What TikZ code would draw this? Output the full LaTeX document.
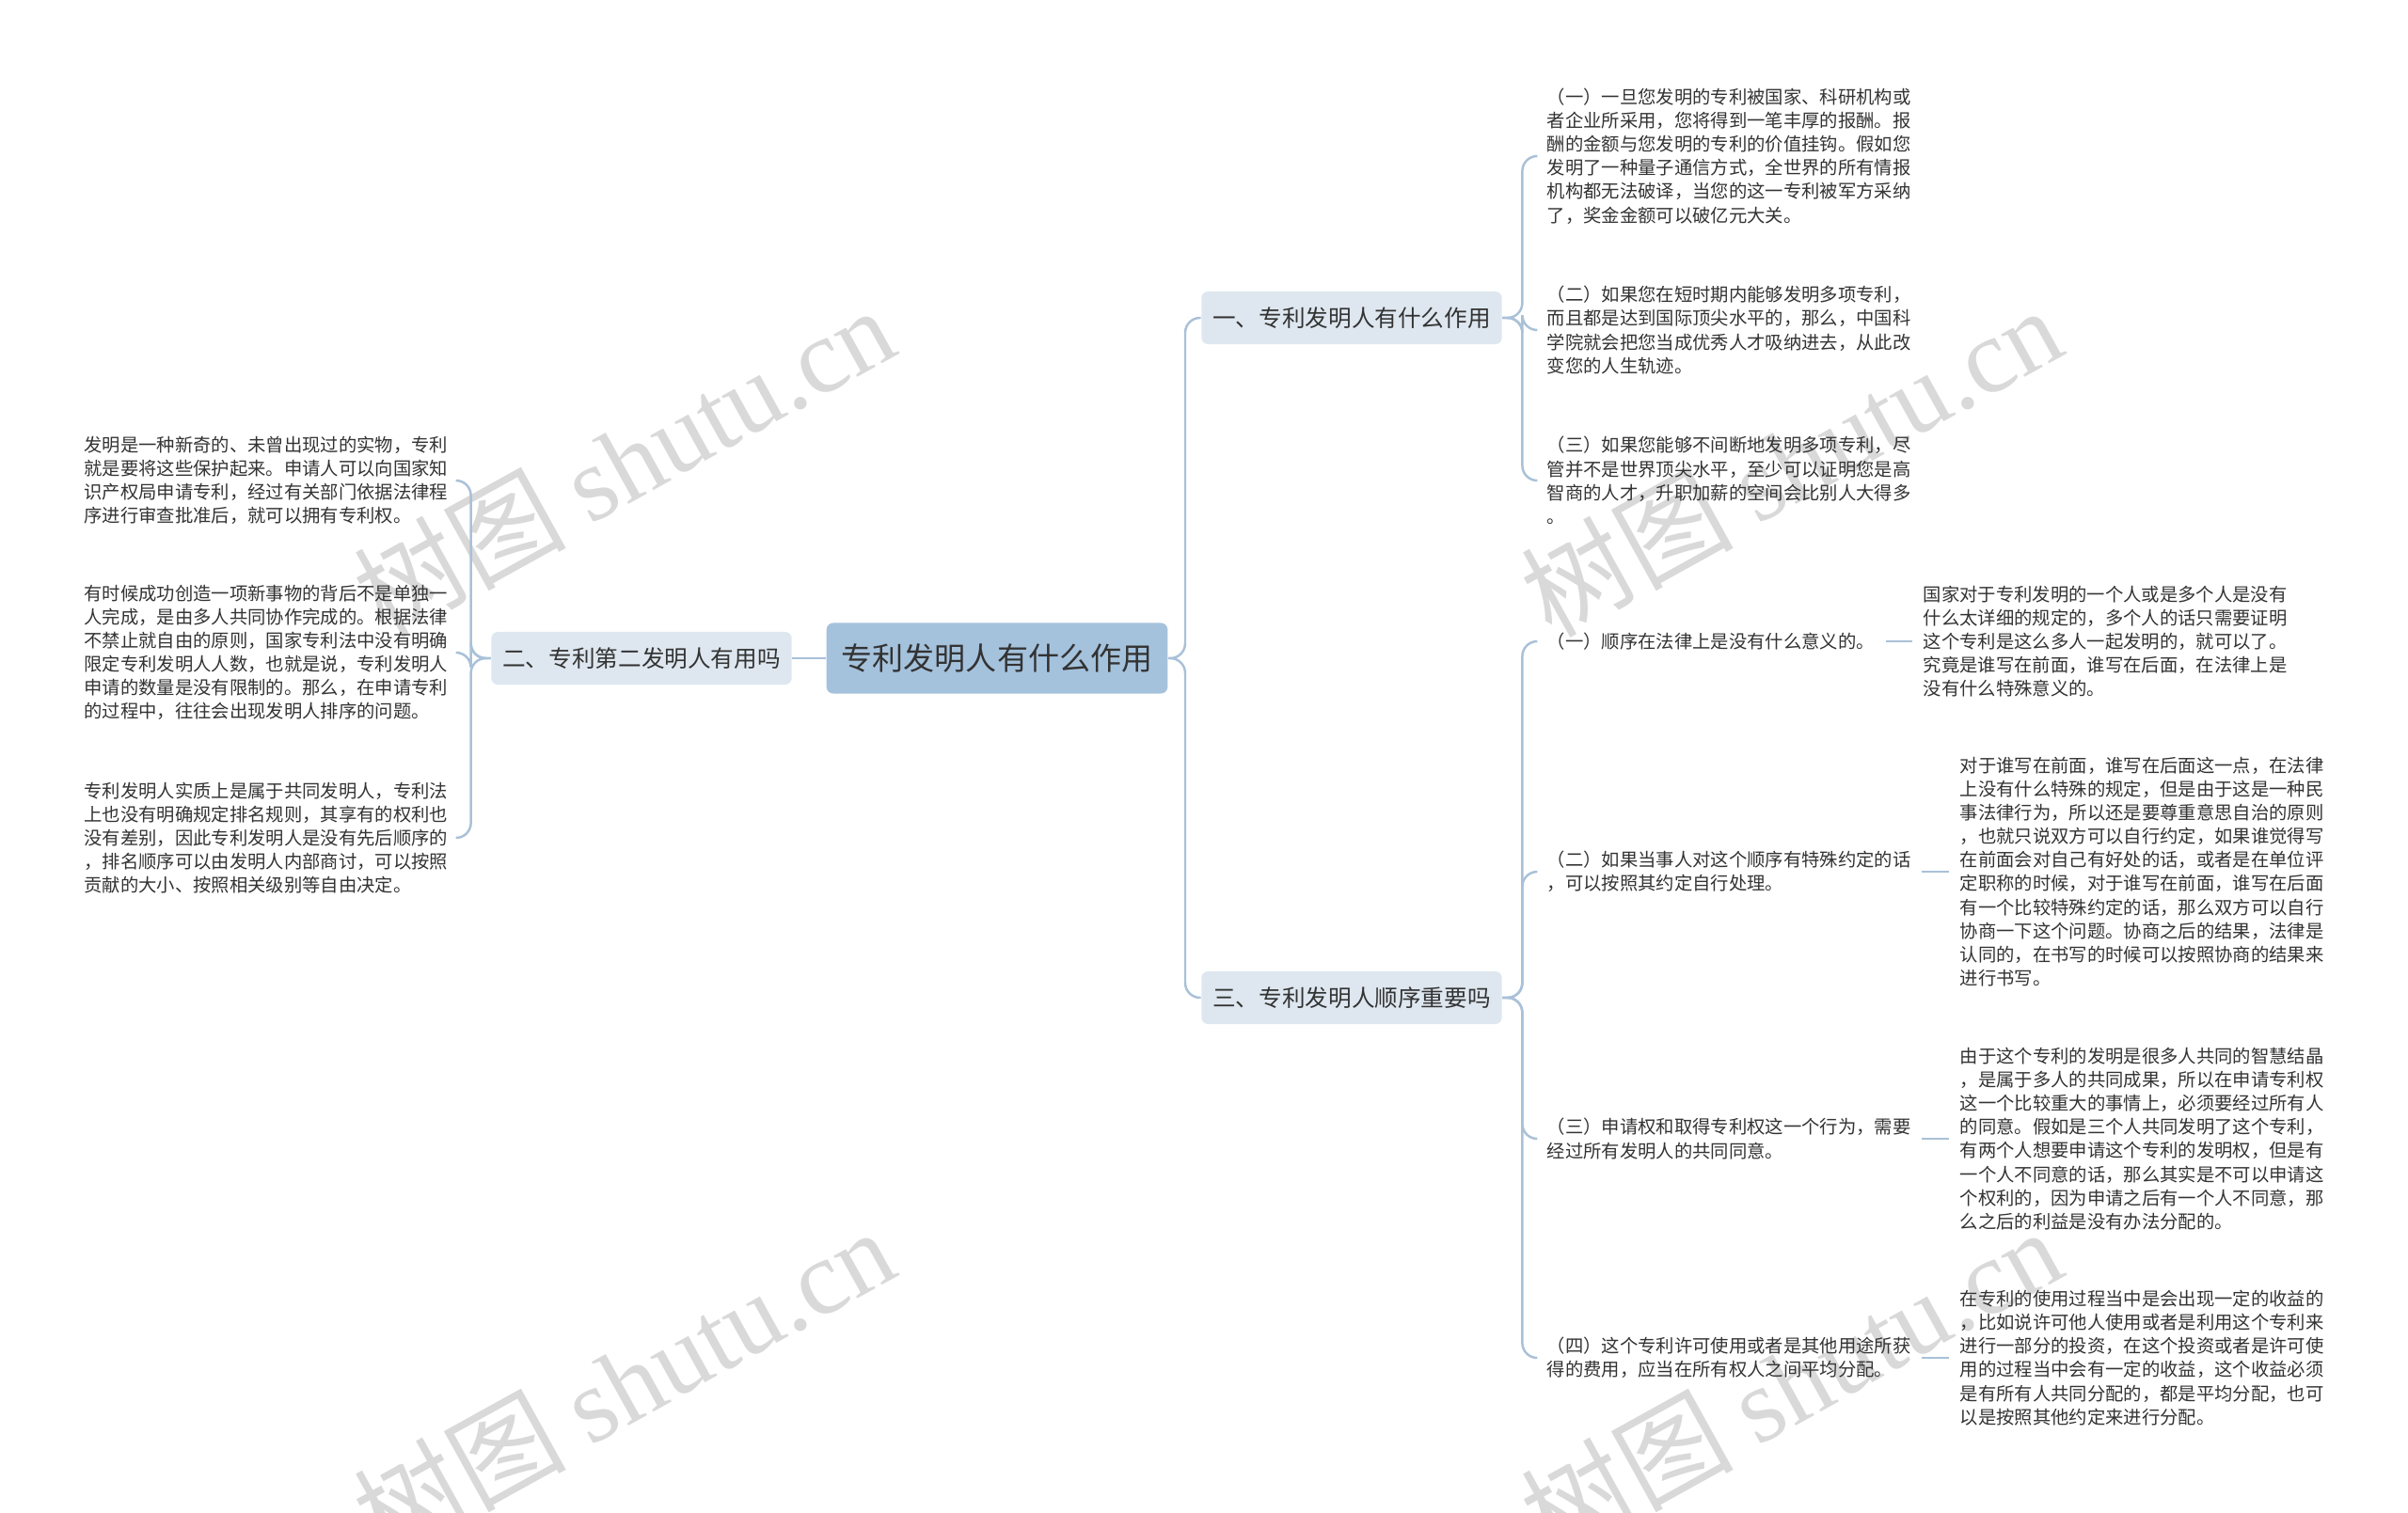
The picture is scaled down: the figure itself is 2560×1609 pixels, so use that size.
\documentclass[tikz,border=0pt]{standalone}
\usepackage{fontspec}
\setmainfont{Noto Sans CJK SC}
\newfontfamily\wmserif{Liberation Serif}
\definecolor{rootblue}{HTML}{A5C2DD}
\definecolor{subblue}{HTML}{DEE7F0}
\definecolor{linkblue}{HTML}{A9C1D8}
\definecolor{inktext}{HTML}{333333}
\tikzset{
  rootnode/.style={fill=rootblue, rounded corners=2pt, text=inktext, inner xsep=0.16cm,
    minimum height=0.75cm, font=\fontsize{9.4}{11}\selectfont},
  branchnode/.style={fill=subblue, rounded corners=2pt, text=inktext, inner xsep=0.12cm,
    minimum height=0.56cm, font=\fontsize{7}{8.5}\selectfont},
  leafnode/.style={align=left, inner xsep=0.11cm, inner ysep=0.05cm, text=inktext,
    font=\fontsize{5.5}{7.15}\selectfont},
  link/.style={draw=linkblue, line width=0.7pt, rounded corners=4.5pt},
  wmark/.style={text=black!15, rotate=29, font=\fontsize{32}{32}\selectfont}
}
\begin{document}
\begin{tikzpicture}[x=0.01cm, y=-0.01cm]
\useasboundingbox[fill=white] (0,0) rectangle (2560,1609);

\node[wmark] (w1) at (663,490) {树图 {\wmserif shutu.cn}};
\node[wmark] (w2) at (1904,490) {树图 {\wmserif shutu.cn}};
\node[wmark] (w3) at (663,1470) {树图 {\wmserif shutu.cn}};
\node[wmark] (w4) at (1904,1470) {树图 {\wmserif shutu.cn}};

\node[rootnode] (root) at (1060,700) {专利发明人有什么作用};
\node[branchnode] (b1) at (1437,338) {一、专利发明人有什么作用};
\node[branchnode] (b2) at (682,700) {二、专利第二发明人有用吗};
\node[branchnode] (b3) at (1437,1061) {三、专利发明人顺序重要吗};

\node[leafnode, anchor=west] (a1) at (1633,166) {（一）一旦您发明的专利被国家、科研机构或\\
者企业所采用，您将得到一笔丰厚的报酬。报\\
酬的金额与您发明的专利的价值挂钩。假如您\\
发明了一种量子通信方式，全世界的所有情报\\
机构都无法破译，当您的这一专利被军方采纳\\
了，奖金金额可以破亿元大关。};
\node[leafnode, anchor=west] (a2) at (1633,351) {（二）如果您在短时期内能够发明多项专利，\\
而且都是达到国际顶尖水平的，那么，中国科\\
学院就会把您当成优秀人才吸纳进去，从此改\\
变您的人生轨迹。};
\node[leafnode, anchor=west] (a3) at (1633,511) {（三）如果您能够不间断地发明多项专利，尽\\
管并不是世界顶尖水平，至少可以证明您是高\\
智商的人才，升职加薪的空间会比别人大得多\\
。};

\node[leafnode, anchor=east] (e1) at (488,511) {发明是一种新奇的、未曾出现过的实物，专利\\
就是要将这些保护起来。申请人可以向国家知\\
识产权局申请专利，经过有关部门依据法律程\\
序进行审查批准后，就可以拥有专利权。};
\node[leafnode, anchor=east] (e2) at (488,694) {有时候成功创造一项新事物的背后不是单独一\\
人完成，是由多人共同协作完成的。根据法律\\
不禁止就自由的原则，国家专利法中没有明确\\
限定专利发明人人数，也就是说，专利发明人\\
申请的数量是没有限制的。那么，在申请专利\\
的过程中，往往会出现发明人排序的问题。};
\node[leafnode, anchor=east] (e3) at (488,891) {专利发明人实质上是属于共同发明人，专利法\\
上也没有明确规定排名规则，其享有的权利也\\
没有差别，因此专利发明人是没有先后顺序的\\
，排名顺序可以由发明人内部商讨，可以按照\\
贡献的大小、按照相关级别等自由决定。};

\node[leafnode, anchor=west] (c1) at (1633,682) {（一）顺序在法律上是没有什么意义的。};
\node[leafnode, anchor=west] (c2) at (1633,927) {（二）如果当事人对这个顺序有特殊约定的话\\
，可以按照其约定自行处理。};
\node[leafnode, anchor=west] (c3) at (1633,1211) {（三）申请权和取得专利权这一个行为，需要\\
经过所有发明人的共同同意。};
\node[leafnode, anchor=west] (c4) at (1633,1444) {（四）这个专利许可使用或者是其他用途所获\\
得的费用，应当在所有权人之间平均分配。};

\node[leafnode, anchor=west] (d1) at (2033,682) {国家对于专利发明的一个人或是多个人是没有\\
什么太详细的规定的，多个人的话只需要证明\\
这个专利是这么多人一起发明的，就可以了。\\
究竟是谁写在前面，谁写在后面，在法律上是\\
没有什么特殊意义的。};
\node[leafnode, anchor=west] (d2) at (2072,927) {对于谁写在前面，谁写在后面这一点，在法律\\
上没有什么特殊的规定，但是由于这是一种民\\
事法律行为，所以还是要尊重意思自治的原则\\
，也就只说双方可以自行约定，如果谁觉得写\\
在前面会对自己有好处的话，或者是在单位评\\
定职称的时候，对于谁写在前面，谁写在后面\\
有一个比较特殊约定的话，那么双方可以自行\\
协商一下这个问题。协商之后的结果，法律是\\
认同的，在书写的时候可以按照协商的结果来\\
进行书写。};
\node[leafnode, anchor=west] (d3) at (2072,1211) {由于这个专利的发明是很多人共同的智慧结晶\\
，是属于多人的共同成果，所以在申请专利权\\
这一个比较重大的事情上，必须要经过所有人\\
的同意。假如是三个人共同发明了这个专利，\\
有两个人想要申请这个专利的发明权，但是有\\
一个人不同意的话，那么其实是不可以申请这\\
个权利的，因为申请之后有一个人不同意，那\\
么之后的利益是没有办法分配的。};
\node[leafnode, anchor=west] (d4) at (2072,1444) {在专利的使用过程当中是会出现一定的收益的\\
，比如说许可他人使用或者是利用这个专利来\\
进行一部分的投资，在这个投资或者是许可使\\
用的过程当中会有一定的收益，这个收益必须\\
是有所有人共同分配的，都是平均分配，也可\\
以是按照其他约定来进行分配。};

\draw[link] (root.east) -- ++(18,0) |- (b1.west);
\draw[link] (root.east) -- ++(18,0) |- (b3.west);
\draw[link] (root.west) -- (b2.east);
\foreach \n in {a1,a2,a3}
  \draw[link] (b1.east) -- ++(21,0) |- (\n.west);
\foreach \n in {c1,c2,c3,c4}
  \draw[link] (b3.east) -- ++(21,0) |- (\n.west);
\foreach \n in {e1,e2,e3}
  \draw[link] (b2.west) -- ++(-21,0) |- (\n.east);
\foreach \n in {1,...,4}
  \draw[link] (c\n.east) -- (d\n.west);
\end{tikzpicture}
\end{document}
